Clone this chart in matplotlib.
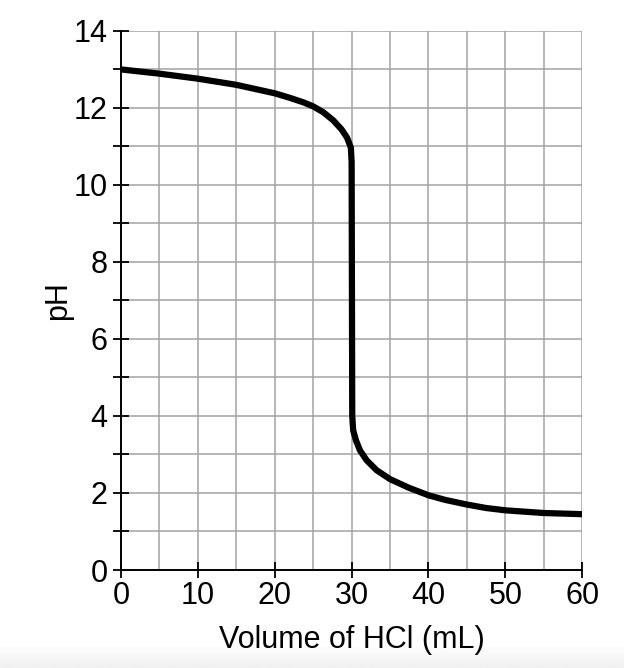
import numpy as np
import matplotlib

matplotlib.use('Agg')

import matplotlib.pyplot as plt
from matplotlib.ticker import MultipleLocator

# titration curve
volume_ml = [0, 5, 10, 15, 17.5, 20, 22, 23.8, 25, 26.3, 27.6, 28.7, 29.4,
             29.9, 30.0, 30.08, 30.2, 30.56, 31.08, 31.95, 33.26, 35, 37.4,
             40, 42.2, 45, 47.5, 50, 55, 60]
ph_values = [13.0, 12.89, 12.76, 12.6, 12.49, 12.38, 12.26, 12.14, 12.04,
             11.89, 11.68, 11.44, 11.23, 10.97, 10.6, 4.0, 3.63, 3.37, 3.11,
             2.85, 2.59, 2.36, 2.14, 1.94, 1.82, 1.70, 1.61, 1.55, 1.48, 1.45]

x_ticks = [0, 10, 20, 30, 40, 50, 60]
y_ticks = [0, 2, 4, 6, 8, 10, 12, 14]

plt.rcParams['font.family'] = ['Liberation Sans', 'DejaVu Sans']

fig = plt.figure(figsize=(6.24, 6.68), dpi=100)

# faint grey band at the bottom of the screenshot
band = fig.add_axes([0, 0, 1, 0.035])
band.imshow(np.linspace(1.0, 0.94, 20).reshape(-1, 1), aspect='auto',
            cmap='gray', vmin=0, vmax=1)
band.set_axis_off()

ax = fig.add_axes([0.194, 0.1467, 0.739, 0.807])

ax.plot(volume_ml, ph_values, color='black', linewidth=4.5,
        solid_joinstyle='round', solid_capstyle='butt', zorder=3)

ax.set_xlim(0, 60)
ax.set_ylim(0, 14)
ax.set_xticks(x_ticks)
ax.set_yticks(y_ticks)
ax.xaxis.set_minor_locator(MultipleLocator(5))
ax.yaxis.set_minor_locator(MultipleLocator(1))

ax.grid(True, which='both', color='#a3a3a3', linewidth=1.1, zorder=0)
ax.set_axisbelow(True)

for side in ['top', 'right']:
    ax.spines[side].set_visible(False)
for side in ['left', 'bottom']:
    ax.spines[side].set_linewidth(1.4)
    ax.spines[side].set_zorder(4)

ax.tick_params(axis='both', which='major', direction='inout', length=11.5,
               width=1.3, labelsize=22, color='black')
ax.tick_params(axis='y', which='minor', direction='inout', length=11.5,
               width=1.3, color='black')
ax.tick_params(axis='x', which='minor', length=0)
ax.tick_params(axis='y', which='major', pad=4)
ax.tick_params(axis='x', which='major', pad=2)

ax.set_xlabel('Volume of HCl (mL)', fontsize=22, labelpad=10)
ax.set_ylabel('pH', fontsize=22, labelpad=0)

fig.savefig('out.png', dpi=100)
